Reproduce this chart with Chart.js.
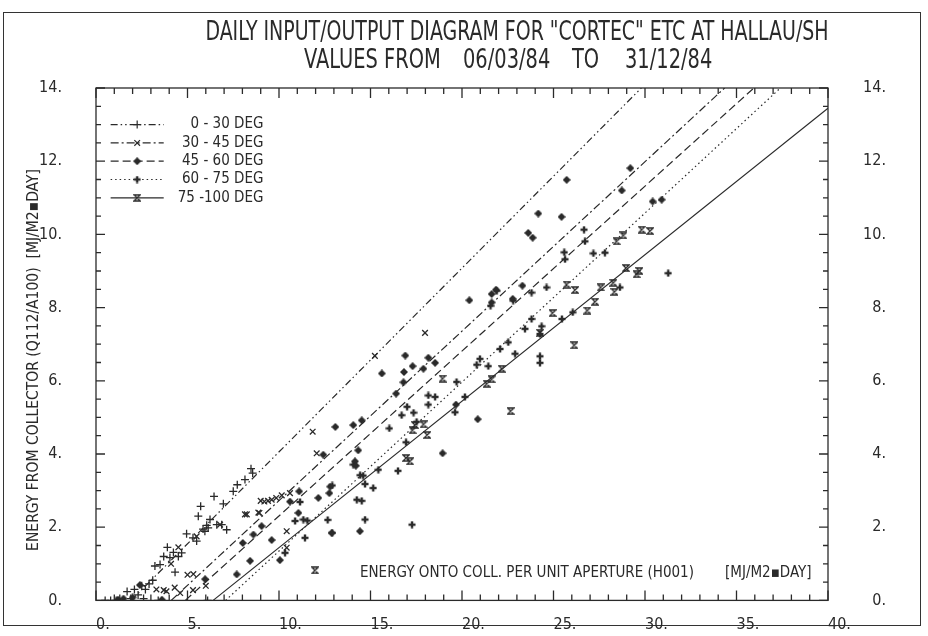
<!DOCTYPE html>
<html>
<head>
<meta charset="utf-8">
<script src="https://cdn.jsdelivr.net/npm/chart.js@4/dist/chart.umd.min.js"></script>
<style>
  html, body { margin: 0; padding: 0; background: #fff; }
  #wrap { position: relative; width: 928px; height: 636px; }
  #frame { position: absolute; left: 3px; top: 12px; width: 918px; height: 614px; border: 1.5px solid #333; box-sizing: border-box; }
  #chart { position: absolute; left: 0; top: 0; }
</style>
</head>
<body>
<div id="wrap"><div id="frame"></div><canvas id="chart" width="928" height="636"></canvas></div>
<script>
const ink = "#2a2a2a";
const font = '"Liberation Sans Narrow", "DejaVu Sans Condensed", "Open Sans", sans-serif';

const titleTop = 'DAILY INPUT/OUTPUT DIAGRAM FOR "CORTEC" ETC AT HALLAU/SH';
const titleBottom = ["VALUES FROM", "06/03/84", "TO", "31/12/84"];
const yTitle = "ENERGY FROM COLLECTOR (Q112/A100)  [MJ/M2\u25AADAY]";
const xTitle = "ENERGY ONTO COLL. PER UNIT APERTURE (H001)";
const xUnit = "[MJ/M2\u25AADAY]";
const seriesLabels = ["0 - 30 DEG", "30 - 45 DEG", "45 - 60 DEG", "60 - 75 DEG", "75 -100 DEG"];

// fitted lines: start on the x axis, end on the frame
const fitStartX = [1.92, 4.11, 4.88, 7.08, 6.4];
const fitStartY = [0, 0, 0, 0, 0];
const fitEndX = [29.8, 34.35, 35.95, 37.4, 40];
const fitEndY = [14, 14, 14, 14, 13.45];

const pts0to30 = [[0.5,0],[0.8,0],[1.1,0],[1.3,0.05],[1.7,0.24],[1.9,0.05],[2.1,0.3],[2.3,0.15],[2.5,0.4],[2.6,0.05],[2.7,0.3],[2.9,0.45],[3.1,0.55],[3.22,0.94],[3.4,0],[3.5,0.98],[3.7,1.2],[3.9,1.45],[4.04,1.17],[4.23,1.31],[4.32,0.77],[4.5,1.2],[4.68,1.3],[4.95,1.82],[5.3,1.71],[5.5,1.62],[5.59,2.3],[5.72,2.57],[5.85,1.95],[5.95,1.89],[6.05,2.05],[6.1,0],[6.13,1.98],[6.23,2.21],[6.45,2.84],[6.6,2.07],[6.87,2.07],[6.96,2.64],[7.14,1.93],[7.5,2.98],[7.72,3.16],[8.14,3.3],[8.47,3.6],[8.56,3.48]];
const pts30to45 = [[3.3,0.3],[3.7,0.28],[3.85,0.25],[4.1,1.0],[4.3,0.35],[4.5,1.45],[4.6,0.2],[5.0,0.7],[5.3,0.28],[5.32,0.72],[5.5,1.75],[6.0,0.4],[6.78,2.07],[8.14,2.35],[8.24,2.35],[8.87,2.4],[8.93,2.39],[9.0,2.72],[9.2,2.7],[9.4,2.72],[9.6,2.75],[9.85,2.8],[10.15,2.87],[10.42,1.89],[10.42,1.44],[10.6,2.93],[11.84,4.61],[12.06,4.02],[15.24,6.68],[17.98,7.31]];
const pts45to60 = [[1.2,0.02],[1.5,0.05],[2.0,0.08],[2.4,0.42],[3.6,0.02],[5.96,0.58],[7.69,0.71],[8.02,1.57],[8.42,1.08],[8.6,1.8],[9.05,2.03],[9.6,1.65],[10.05,1.1],[10.6,2.7],[11.1,2.98],[11.06,2.39],[12.15,2.8],[12.75,2.93],[12.88,1.84],[12.8,3.11],[13.08,4.74],[12.42,3.98],[14.06,4.79],[14.52,4.92],[14.15,3.8],[14.2,3.68],[14.33,4.1],[14.42,1.89],[15.62,6.2],[16.4,5.65],[16.8,5.96],[16.83,6.24],[16.9,6.69],[17.3,6.4],[17.89,6.33],[18.16,6.63],[18.53,6.49],[18.94,4.02],[19.67,5.35],[20.4,8.2],[20.86,4.95],[21.62,8.14],[21.86,8.49],[21.62,8.37],[22.77,8.24],[23.3,8.6],[23.62,10.04],[23.86,9.91],[24.17,10.57],[25.44,10.48],[25.72,11.49],[28.73,11.2],[29.2,11.81],[30.42,10.9],[30.91,10.95]];
const pts60to75 = [[10.33,1.3],[10.88,2.17],[11.15,2.69],[11.33,2.21],[11.42,1.71],[11.55,2.18],[12.66,2.2],[12.91,1.85],[12.91,3.14],[14.06,3.71],[14.25,2.75],[14.43,3.42],[14.52,2.72],[14.6,3.41],[14.7,3.18],[14.7,2.21],[15.15,3.07],[15.43,3.57],[16.03,4.7],[16.5,3.54],[16.7,5.06],[16.94,4.32],[17.0,5.29],[17.27,2.07],[17.35,5.13],[17.52,4.88],[18.16,5.6],[18.16,5.35],[18.53,5.56],[19.62,5.14],[19.7,5.97],[20.16,5.56],[20.8,6.44],[20.98,6.6],[21.44,6.4],[21.56,8.05],[21.9,8.46],[22.08,6.87],[22.53,7.05],[22.8,8.19],[22.9,6.74],[23.44,7.42],[23.8,7.69],[23.8,8.41],[24.26,7.28],[24.26,6.67],[24.26,6.49],[24.35,7.49],[24.62,8.55],[25.46,7.69],[26.05,7.87],[25.59,9.51],[25.63,9.32],[26.67,10.13],[26.72,9.81],[27.18,9.48],[27.81,9.5],[28.63,8.55],[31.27,8.94]];
const pts75to100 = [[11.97,0.82],[16.94,3.89],[17.16,3.8],[17.3,4.65],[17.43,4.79],[17.9,4.81],[18.1,4.52],[18.94,6.06],[21.35,5.92],[21.62,6.04],[22.17,6.33],[22.66,5.17],[24.26,7.31],[24.95,7.85],[25.72,8.63],[26.18,8.48],[26.14,6.97],[26.85,7.92],[27.27,8.16],[27.58,8.55],[28.27,8.68],[28.33,8.43],[28.45,9.81],[28.82,9.97],[28.96,9.08],[29.54,8.91],[29.69,9.0],[29.82,10.13],[30.28,10.09]];

const seriesPoints = [pts0to30, pts30to45, pts45to60, pts60to75, pts75to100];
const lineDashes = [[7, 3, 1.5, 3, 1.5, 3], [8, 3, 2, 3], [8, 4], [1.5, 3], []];

// small bitmap markers for the symbols chart.js lacks
const makeMarker = (kind) => {
  const c = document.createElement("canvas");
  c.width = 8; c.height = 8;
  const g = c.getContext("2d");
  g.strokeStyle = ink; g.fillStyle = ink; g.lineWidth = 1.3;
  if (kind === "hour") {
    g.beginPath();
    g.moveTo(1, 1); g.lineTo(7, 1); g.lineTo(1, 7); g.lineTo(7, 7); g.closePath();
    g.stroke();
  } else if (kind === "plus") {
    g.fillRect(2.8, 0.5, 2.4, 7);
    g.fillRect(0.5, 2.8, 7, 2.4);
  } else {
    g.beginPath();
    g.moveTo(4, 0); g.lineTo(8, 4); g.lineTo(4, 8); g.lineTo(0, 4); g.closePath();
    g.fill();
  }
  return c;
};
const pointStyles = ["cross", "crossRot", makeMarker("diamond"), makeMarker("plus"), makeMarker("hour")];

const datasets = [];
seriesPoints.forEach((pts, i) => {
  datasets.push({
    label: seriesLabels[i],
    data: pts.map(([x, y]) => ({ x, y })),
    pointStyle: pointStyles[i],
    pointRadius: 4,
    borderColor: ink,
    backgroundColor: ink,
    borderWidth: 1.3,
    showLine: false,
  });
});
fitStartX.forEach((x0, i) => {
  datasets.push({
    label: seriesLabels[i] + " fit",
    data: [{ x: x0, y: fitStartY[i] }, { x: fitEndX[i], y: fitEndY[i] }],
    showLine: true,
    pointRadius: 0,
    borderColor: ink,
    borderWidth: 1.2,
    borderDash: lineDashes[i],
    fill: false,
  });
});

// draws narrow plotter-style text, squeezed horizontally
const narrowText = (ctx, text, x, y, squeeze) => {
  ctx.save();
  ctx.translate(x, y);
  ctx.scale(squeeze, 1);
  ctx.fillText(text, 0, 0);
  ctx.restore();
};

const framePlugin = {
  id: "framePlugin",
  afterDraw(chart) {
    const { ctx, chartArea: a, scales: { x, y } } = chart;
    ctx.save();
    ctx.strokeStyle = ink;
    ctx.fillStyle = ink;
    ctx.lineWidth = 1.3;
    ctx.setLineDash([]);
    ctx.strokeRect(a.left, a.top, a.right - a.left, a.bottom - a.top);
    ctx.beginPath();
    for (let v = 0; v <= 40; v++) {
      const px = x.getPixelForValue(v);
      const len = v % 5 === 0 ? 10 : 6;
      ctx.moveTo(px, a.bottom); ctx.lineTo(px, a.bottom - len);
      ctx.moveTo(px, a.top); ctx.lineTo(px, a.top + len);
    }
    for (let k = 0; k <= 28; k++) {
      const v = k / 2;
      const py = y.getPixelForValue(v);
      const len = v % 2 === 0 ? 9 : 5;
      ctx.moveTo(a.left, py); ctx.lineTo(a.left + len, py);
      ctx.moveTo(a.right, py); ctx.lineTo(a.right - len, py);
    }
    ctx.stroke();

    // title
    ctx.textBaseline = "middle";
    ctx.font = "27px " + font;
    ctx.textAlign = "center";
    narrowText(ctx, titleTop, 517, 33, 0.78);
    ctx.textAlign = "left";
    [304, 463, 572, 625].forEach((tx, i) => narrowText(ctx, titleBottom[i], tx, 61, 0.8));

    // axis titles
    ctx.textAlign = "center";
    ctx.font = "15.5px " + font;
    ctx.save();
    ctx.translate(34, 360);
    ctx.rotate(-Math.PI / 2);
    ctx.fillText(yTitle, 0, 0);
    ctx.restore();
    ctx.font = "15px " + font;
    ctx.textAlign = "left";
    ctx.fillText(xTitle, 360, 573);
    ctx.fillText(xUnit, 725, 573);

    // legend
    ctx.font = "15px " + font;
    const lx0 = x.getPixelForValue(0.8);
    const lx1 = x.getPixelForValue(3.7);
    const tx = x.getPixelForValue(9.15);
    for (let i = 0; i < 5; i++) {
      const py = y.getPixelForValue(13 - i * 0.5);
      ctx.setLineDash(lineDashes[i]);
      ctx.lineWidth = 1.2;
      ctx.beginPath(); ctx.moveTo(lx0, py); ctx.lineTo(lx1, py); ctx.stroke();
      ctx.setLineDash([]);
      Chart.helpers.drawPoint(ctx, { pointStyle: pointStyles[i], radius: 4, borderWidth: 1.3, rotation: 0 }, (lx0 + lx1) / 2, py);
      ctx.textAlign = "right";
      ctx.fillText(seriesLabels[i], tx, py);
    }
    ctx.restore();
  },
};

const tickFont = { family: font, size: 16 };
new Chart(document.getElementById("chart"), {
  type: "scatter",
  data: { datasets },
  options: {
    responsive: false,
    animation: false,
    layout: { padding: { top: 88, right: 42, left: 0, bottom: 0 } },
    plugins: { legend: { display: false }, tooltip: { enabled: false } },
    scales: {
      x: {
        type: "linear", min: 0, max: 40,
        grid: { display: false }, border: { display: false },
        ticks: { stepSize: 5, color: ink, font: tickFont, padding: 7, align: "start", callback: (v) => v + "." },
        afterFit: (s) => { s.height = 33; },
      },
      y: {
        type: "linear", position: "left", min: 0, max: 14,
        grid: { display: false }, border: { display: false },
        ticks: { stepSize: 2, color: ink, font: tickFont, padding: 26, callback: (v) => v + "." },
        afterFit: (s) => { s.width = 96; },
      },
      y2: {
        type: "linear", position: "right", min: 0, max: 14,
        grid: { display: false }, border: { display: false },
        ticks: { stepSize: 2, color: ink, font: tickFont, crossAlign: "far", callback: (v) => v + "." },
        afterFit: (s) => { s.width = 58; },
      },
    },
  },
  plugins: [framePlugin],
});
</script>
</body>
</html>
